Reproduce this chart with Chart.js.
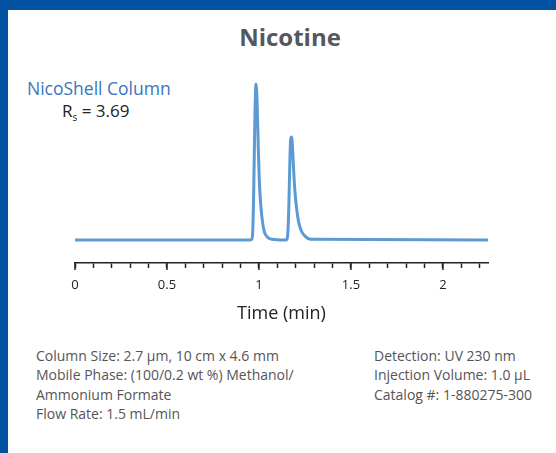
<!DOCTYPE html>
<html>
<head>
    <title>Nicotine</title>
    <style>
        body { margin: 0; width: 556px; height: 453px; background: #fff; position: relative; overflow: hidden; font-family: "Open Sans", sans-serif; }
        #topBar { position: absolute; left: 0; top: 0; width: 556px; height: 10px; background: #0051a0; }
        #leftBar { position: absolute; left: 0; top: 0; width: 8px; height: 453px; background: #0051a0; }
        #title { position: absolute; left: 190px; width: 200px; top: 20px; text-align: center; font-size: 24px; font-weight: bold; color: #54585d; }
        #column { position: absolute; left: 27px; top: 76px; font-size: 17.5px; color: #3a76bd; }
        #rs { position: absolute; left: 62px; top: 99px; font-size: 17px; color: #222; }
        #rs sub { font-size: 10px; }
        #chart { position: absolute; left: 0; top: 0; width: 556px; height: 340px; }
        .info { position: absolute; top: 346px; font-size: 14px; line-height: 19.3px; color: #555; }
        #infoLeft { left: 36px; }
        #infoRight { left: 374px; }
    </style>
</head>

<body>
    <div id="topBar"></div>
    <div id="leftBar"></div>
    <div id="title">Nicotine</div>
    <div id="column">NicoShell Column</div>
    <div id="rs">R<sub>s</sub> = 3.69</div>
    <div id="chart">
        <canvas id="myChart"></canvas>
    </div>
    <div class="info" id="infoLeft">
        Column Size: 2.7 µm, 10 cm x 4.6 mm<br>
        Mobile Phase: (100/0.2 wt %) Methanol/<br>
        Ammonium Formate<br>
        Flow Rate: 1.5 mL/min
    </div>
    <div class="info" id="infoRight">
        Detection: UV 230 nm<br>
        Injection Volume: 1.0 µL<br>
        Catalog #: 1-880275-300
    </div>
</body>
<script src="https://cdn.jsdelivr.net/npm/chart.js@4.4.1/dist/chart.umd.min.js"></script>
<script>
    // chromatogram (time in min, signal scaled so peak 1 = 100)
    const times = [0, 0.95, 0.96, 0.966, 0.972, 0.978, 0.984, 0.99, 0.996, 1.002, 1.01, 1.02, 1.03, 1.045, 1.07,
        1.14, 1.15, 1.156, 1.162, 1.168, 1.172, 1.177, 1.182, 1.188, 1.195, 1.205, 1.215, 1.23, 1.25, 1.28, 2.245];
    const signal = [0, 0, 0.3, 5, 35, 80, 100, 88, 60, 38, 22, 11, 5, 2, 0.5,
        0, 0.2, 3, 20, 50, 64, 66, 60, 46, 32, 20, 12, 6, 2.5, 0.5, 0];
    const majorTicks = [0, 0.5, 1, 1.5, 2];

    const points = [];
    for (let i = 0; i < times.length; i++) {
        points.push({ x: times[i], y: signal[i] });
    }

    function isMajor(v) {
        return majorTicks.some(m => Math.abs(m - v) < 1e-6);
    }

    // longer ticks for the labelled values
    const majorTickPlugin = {
        id: 'majorTicks',
        afterDraw(chart) {
            const xs = chart.scales.x;
            const c = chart.ctx;
            c.save();
            c.strokeStyle = '#222';
            c.lineWidth = 1.5;
            xs.ticks.forEach(t => {
                if (isMajor(t.value)) {
                    const px = xs.getPixelForValue(t.value);
                    c.beginPath();
                    c.moveTo(px, xs.top);
                    c.lineTo(px, xs.top + 7);
                    c.stroke();
                }
            });
            c.restore();
        }
    };

    const ctx = document.getElementById('myChart').getContext('2d');
    new Chart(ctx, {
        type: 'line',
        data: {
            datasets: [{
                data: points,
                borderColor: '#5b9bd5',
                borderWidth: 3,
                pointRadius: 0,
                cubicInterpolationMode: 'monotone',
                fill: false
            }]
        },
        options: {
            responsive: true,
            maintainAspectRatio: false,
            animation: false,
            layout: { padding: { left: 75, right: 68, top: 60, bottom: 15 } },
            plugins: { legend: { display: false }, tooltip: { enabled: false } },
            scales: {
                x: {
                    type: 'linear',
                    min: 0,
                    max: 2.245,
                    afterFit: s => { s.height = 62; },
                    border: { display: true, color: '#222', width: 1.5 },
                    grid: { drawOnChartArea: false, tickLength: 5, tickColor: '#222', tickWidth: 1.5 },
                    ticks: {
                        stepSize: 0.1,
                        includeBounds: false,
                        autoSkip: false,
                        maxRotation: 0,
                        padding: 9,
                        color: '#222',
                        font: { family: 'Open Sans', size: 13 },
                        callback: v => isMajor(v) ? String(Math.round(v * 10) / 10) : ''
                    },
                    title: {
                        display: true,
                        text: 'Time (min)',
                        color: '#222',
                        font: { family: 'Open Sans', size: 18 },
                        padding: { top: 0, bottom: 0 }
                    }
                },
                y: {
                    display: false,
                    min: -14.7,
                    max: 115.4
                }
            }
        },
        plugins: [majorTickPlugin]
    });
</script>
</html>
